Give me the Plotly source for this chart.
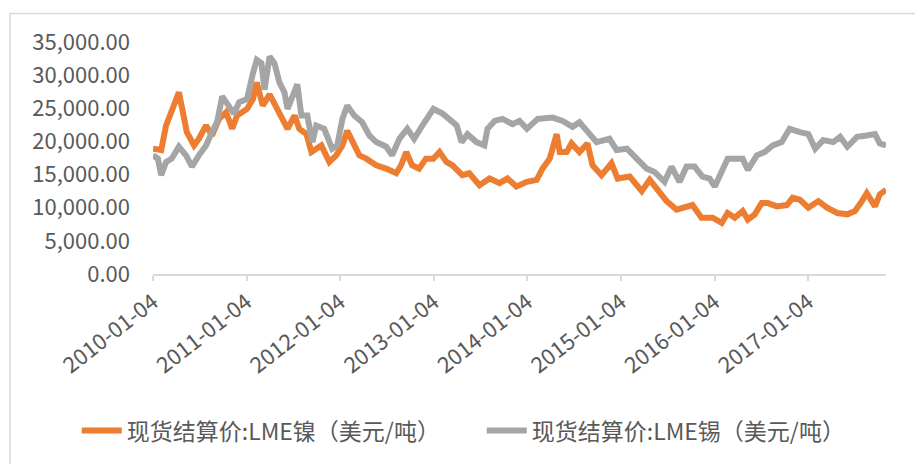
import plotly.graph_objects as go

# LME nickel spot settlement (USD/t)
nickel_dates = [
    "2010-01-04", "2010-02-05", "2010-02-24", "2010-03-18", "2010-04-15", "2010-04-28",
    "2010-05-16", "2010-06-13", "2010-07-02", "2010-07-30", "2010-08-22", "2010-09-19",
    "2010-10-16", "2010-11-09", "2010-11-28", "2011-01-06", "2011-01-29", "2011-02-13",
    "2011-03-08", "2011-04-04", "2011-05-01", "2011-05-21", "2011-06-13", "2011-07-10",
    "2011-07-29", "2011-08-26", "2011-09-14", "2011-10-23", "2011-11-23", "2011-12-20",
    "2012-01-13", "2012-02-01", "2012-02-20", "2012-03-19", "2012-04-15", "2012-05-24",
    "2012-07-02", "2012-08-10", "2012-08-29", "2012-09-18", "2012-10-11", "2012-11-07",
    "2012-12-04", "2013-01-02", "2013-01-26", "2013-02-22", "2013-03-17", "2013-04-25",
    "2013-05-22", "2013-07-01", "2013-08-09", "2013-09-17", "2013-10-18", "2013-11-22",
    "2014-01-02", "2014-02-09", "2014-03-04", "2014-04-01", "2014-04-28", "2014-05-10",
    "2014-06-06", "2014-06-25", "2014-07-26", "2014-08-26", "2014-09-15", "2014-10-20",
    "2014-11-28", "2014-12-22", "2015-02-07", "2015-03-26", "2015-04-26", "2015-06-04",
    "2015-07-01", "2015-08-09", "2015-09-17", "2015-10-10", "2015-11-14", "2015-12-28",
    "2016-02-01", "2016-02-24", "2016-03-23", "2016-04-23", "2016-05-13", "2016-06-09",
    "2016-07-06", "2016-07-30", "2016-09-03", "2016-10-12", "2016-11-04", "2016-12-02",
    "2017-01-04", "2017-02-12", "2017-03-18", "2017-04-27", "2017-06-05", "2017-07-05",
    "2017-08-01", "2017-08-20", "2017-09-21", "2017-10-10", "2017-11-03",
]
nickel_values = [
    18900, 18700, 22400, 24900, 27400, 24900,
    21400, 19400, 20400, 22400, 20900, 23400,
    24400, 21900, 23900, 24900, 26400, 28900,
    25400, 27100, 24900, 23400, 21900, 23900,
    21900, 21100, 18400, 19400, 16900, 17900,
    19400, 21600, 19900, 17900, 17400, 16400,
    15900, 15200, 16400, 18400, 16400, 15900,
    17400, 17400, 18400, 16900, 16400, 14900,
    15200, 13400, 14400, 13700, 14400, 13200,
    13900, 14200, 15900, 17400, 21100, 18400,
    18400, 19700, 18400, 19700, 16400, 14900,
    16700, 14400, 14700, 12500, 14200, 12500,
    11000, 9700, 10200, 10400, 8500, 8500,
    7700, 9200, 8500, 9500, 8200, 9000,
    10700, 10700, 10200, 10400, 11500, 11200,
    10000, 11000, 10000, 9200, 9000, 9500,
    11000, 12200, 10200, 12000, 12700,
]

# LME tin spot settlement (USD/t)
tin_dates = [
    "2010-01-04", "2010-01-23", "2010-02-05", "2010-02-24", "2010-03-18", "2010-04-15",
    "2010-05-13", "2010-06-05", "2010-07-02", "2010-07-30", "2010-08-22", "2010-09-11",
    "2010-10-01", "2010-10-28", "2010-11-16", "2010-12-06", "2011-01-06", "2011-01-29",
    "2011-02-13", "2011-03-03", "2011-03-15", "2011-04-04", "2011-04-23", "2011-05-12",
    "2011-06-01", "2011-06-13", "2011-07-01", "2011-07-21", "2011-08-06", "2011-08-29",
    "2011-09-18", "2011-10-03", "2011-11-03", "2011-12-04", "2011-12-24", "2012-01-13",
    "2012-02-01", "2012-02-28", "2012-03-30", "2012-04-27", "2012-05-24", "2012-07-02",
    "2012-07-25", "2012-08-22", "2012-09-22", "2012-10-19", "2012-11-20", "2013-01-02",
    "2013-02-07", "2013-03-06", "2013-04-03", "2013-04-22", "2013-05-15", "2013-06-19",
    "2013-07-20", "2013-08-01", "2013-08-29", "2013-09-29", "2013-11-07", "2013-12-04",
    "2014-01-02", "2014-02-13", "2014-04-12", "2014-05-21", "2014-06-29", "2014-07-26",
    "2014-08-26", "2014-10-01", "2014-11-20", "2014-12-18", "2015-01-27", "2015-03-06",
    "2015-04-14", "2015-05-15", "2015-06-23", "2015-07-20", "2015-08-20", "2015-09-17",
    "2015-10-18", "2015-11-18", "2015-12-16", "2016-01-05", "2016-02-01", "2016-02-24",
    "2016-03-31", "2016-04-23", "2016-05-13", "2016-06-17", "2016-07-18", "2016-08-18",
    "2016-09-22", "2016-10-23", "2016-12-02", "2017-01-04", "2017-01-31", "2017-03-03",
    "2017-04-11", "2017-05-08", "2017-06-05", "2017-07-13", "2017-08-20", "2017-09-21",
    "2017-10-10", "2017-11-03",
]
tin_values = [
    17900, 17400, 14900, 16900, 17400, 19200,
    17900, 16200, 17900, 19400, 21400, 22900,
    26800, 25400, 24200, 25900, 26400, 30300,
    32300, 31800, 27800, 32800, 31800, 28900,
    27400, 24900, 26800, 28600, 23900, 23900,
    19900, 22400, 21900, 18900, 19400, 23400,
    25400, 23900, 22900, 20900, 19900, 19200,
    17900, 20400, 21900, 20400, 22400, 24900,
    24200, 23400, 22400, 19900, 21100, 19900,
    19400, 21900, 23100, 23400, 22600, 23100,
    21900, 23400, 23600, 23100, 22200, 22900,
    21400, 19900, 20400, 18700, 18900, 17400,
    15900, 15400, 13900, 16200, 13900, 16200,
    16200, 14700, 14400, 13200, 15400, 17400,
    17400, 17400, 15700, 17900, 18400, 19400,
    19900, 21900, 21400, 21100, 18900, 20200,
    19900, 20700, 19200, 20700, 20900, 21100,
    19700, 19400,
]

x_tick_labels = ["2010-01-04", "2011-01-04", "2012-01-04", "2013-01-04",
                 "2014-01-04", "2015-01-04", "2016-01-04", "2017-01-04"]
y_tick_values = [0, 5000, 10000, 15000, 20000, 25000, 30000, 35000]

series_names = ["现货结算价:LME镍（美元/吨）", "现货结算价:LME锡（美元/吨）"]

FONT = "Noto Sans CJK SC"
TEXT = "#595959"
GRID = "#d9d9d9"

fig = go.Figure()
fig.add_trace(go.Scatter(x=nickel_dates, y=nickel_values, mode="lines",
                         name=series_names[0],
                         line=dict(color="#ED7D31", width=6)))
fig.add_trace(go.Scatter(x=tin_dates, y=tin_values, mode="lines",
                         name=series_names[1],
                         line=dict(color="#A5A5A5", width=6)))

# page body has an 8px margin; figure sized/margined so the plot area lands
# at page x 153..886, y 42..277
fig.update_layout(
    width=915, height=456,
    margin=dict(l=145, r=37, t=34, b=187),
    paper_bgcolor="white", plot_bgcolor="white",
    font=dict(family=FONT, size=20, color=TEXT),
    showlegend=True,
    legend=dict(orientation="h", x=-0.104, xanchor="left", y=-0.675, yanchor="middle",
                font=dict(size=23, color=TEXT), itemwidth=40, traceorder="normal",
                entrywidth=350, bgcolor="rgba(0,0,0,0)"),
    shapes=[dict(type="rect", xref="paper", yref="paper",
                 x0=-0.195, x1=1.07, y0=-0.85, y1=1.123,
                 line=dict(color=GRID, width=1.5), fillcolor="rgba(0,0,0,0)", layer="below")],
)
fig.update_xaxes(
    type="date", range=["2010-01-04", "2017-11-03"],
    tickvals=x_tick_labels, ticktext=x_tick_labels, tickangle=-38,
    showgrid=False, showline=True, linecolor=GRID, linewidth=1.5,
    ticks="outside", ticklen=5, tickcolor=GRID, tickwidth=1.5,
    tickfont=dict(family=FONT, size=22, color=TEXT), zeroline=False,
    automargin=False,
)
fig.update_yaxes(
    range=[0, 35000], tickvals=y_tick_values, tickformat=",.2f",
    showgrid=False, showline=False, zeroline=False,
    ticklabelstandoff=22, automargin=False,
    tickfont=dict(family=FONT, size=22, color=TEXT),
)

fig.write_html("out.html")
